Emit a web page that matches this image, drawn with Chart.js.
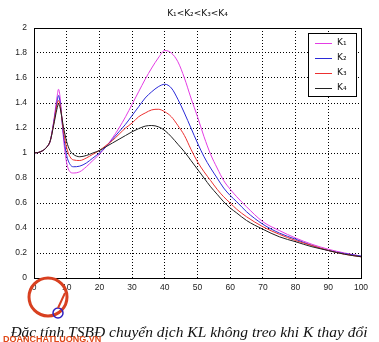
<!DOCTYPE html>
<html>
<head>
<meta charset="utf-8">
<script src="https://cdn.jsdelivr.net/npm/chart.js@4.4.1/dist/chart.umd.min.js"></script>
<style>
  html, body { margin: 0; padding: 0; background: #fff; }
  #wrap { width: 379px; height: 342px; }
</style>
</head>
<body>
<div id="wrap"><canvas id="chart" width="379" height="342"></canvas></div>
<script>
const titleText = 'K₁<K₂<K₃<K₄';
const captionText = 'Đặc tính TSBĐ chuyển dịch KL không treo khi K thay đổi';
const watermarkText = 'DOANCHATLUONG.VN';

const xs = [0, 2, 4, 5, 6, 7, 7.5, 8, 9, 10, 11, 12, 14, 16, 18, 20, 22, 24, 26, 28, 30, 32, 34, 36, 38, 40, 42, 44, 46, 48, 50, 52, 54, 56, 58, 60, 62, 65, 70, 75, 80, 85, 90, 95, 100];

const k1 = [1.00, 1.01, 1.05, 1.10, 1.25, 1.44, 1.51, 1.44, 1.12, 0.92, 0.85, 0.84, 0.85, 0.89, 0.94, 0.99, 1.05, 1.12, 1.20, 1.29, 1.39, 1.49, 1.59, 1.68, 1.76, 1.82, 1.80, 1.73, 1.60, 1.44, 1.29, 1.13, 0.99, 0.88, 0.78, 0.71, 0.65, 0.57, 0.45, 0.38, 0.32, 0.27, 0.23, 0.20, 0.175];
const k2 = [1.00, 1.01, 1.05, 1.10, 1.24, 1.40, 1.46, 1.40, 1.15, 0.98, 0.91, 0.89, 0.895, 0.92, 0.96, 1.00, 1.05, 1.11, 1.17, 1.23, 1.30, 1.37, 1.44, 1.49, 1.53, 1.55, 1.52, 1.43, 1.32, 1.20, 1.08, 0.97, 0.88, 0.80, 0.72, 0.66, 0.61, 0.53, 0.43, 0.36, 0.31, 0.26, 0.22, 0.195, 0.175];
const k3 = [1.00, 1.01, 1.05, 1.10, 1.23, 1.38, 1.42, 1.38, 1.18, 1.04, 0.97, 0.945, 0.94, 0.96, 0.99, 1.02, 1.06, 1.10, 1.15, 1.20, 1.24, 1.29, 1.32, 1.345, 1.35, 1.33, 1.29, 1.22, 1.14, 1.03, 0.93, 0.85, 0.78, 0.71, 0.65, 0.60, 0.55, 0.49, 0.41, 0.35, 0.30, 0.26, 0.22, 0.19, 0.17];
const k4 = [1.00, 1.01, 1.05, 1.10, 1.22, 1.35, 1.39, 1.36, 1.21, 1.09, 1.02, 0.99, 0.97, 0.98, 1.00, 1.02, 1.05, 1.08, 1.11, 1.14, 1.17, 1.195, 1.215, 1.22, 1.21, 1.18, 1.13, 1.07, 1.01, 0.94, 0.87, 0.80, 0.73, 0.67, 0.61, 0.56, 0.52, 0.46, 0.39, 0.33, 0.29, 0.25, 0.22, 0.19, 0.17];

const seriesLabels = ['K₁', 'K₂', 'K₃', 'K₄'];
const seriesColors = ['#e43ce4', '#2a2ad8', '#ec3030', '#202020'];
const seriesValues = [k1, k2, k3, k4];

const xTicks = [0, 10, 20, 30, 40, 50, 60, 70, 80, 90, 100];
const yTicks = [0, 0.2, 0.4, 0.6, 0.8, 1, 1.2, 1.4, 1.6, 1.8, 2];

const tickFont = { family: 'Liberation Sans, Arial, sans-serif', size: 8.5 };

const datasets = seriesValues.map((vals, i) => ({
  label: seriesLabels[i],
  data: xs.map((x, j) => ({ x: x, y: vals[j] })),
  borderColor: seriesColors[i],
  borderWidth: 1,
  pointRadius: 0,
  fill: false,
  cubicInterpolationMode: 'monotone'
}));
// matlab draws last line on top
datasets.reverse();

// frame, title, legend box, caption
const decorPlugin = {
  id: 'decor',
  afterDraw(chart) {
    const ctx = chart.ctx;
    const a = chart.chartArea;
    ctx.save();
    ctx.strokeStyle = '#000';
    ctx.lineWidth = 1;
    ctx.setLineDash([]);
    ctx.strokeRect(Math.round(a.left) + 0.5, Math.round(a.top) + 0.5, Math.round(a.right - a.left), Math.round(a.bottom - a.top));

    // title
    ctx.fillStyle = '#111';
    ctx.font = '9px "DejaVu Sans", sans-serif';
    ctx.textAlign = 'center';
    ctx.textBaseline = 'middle';
    ctx.fillText(titleText, (a.left + a.right) / 2, 14);

    // legend
    const lx = 308, ly = 33, lw = 48, lh = 63;
    ctx.fillStyle = '#fff';
    ctx.fillRect(lx, ly, lw, lh);
    ctx.strokeStyle = '#000';
    ctx.strokeRect(lx + 0.5, ly + 0.5, lw, lh);
    seriesLabels.forEach((lab, i) => {
      const y = ly + 10 + i * 15;
      ctx.strokeStyle = seriesColors[i];
      ctx.beginPath();
      ctx.moveTo(315, y + 0.5);
      ctx.lineTo(332, y + 0.5);
      ctx.stroke();
      ctx.fillStyle = '#111';
      ctx.font = '9px "DejaVu Sans", sans-serif';
      ctx.textAlign = 'left';
      ctx.fillText(lab, 337, y);
    });

    // caption
    ctx.fillStyle = '#111';
    ctx.font = 'italic 15.5px "Liberation Serif", "DejaVu Serif", serif';
    ctx.textAlign = 'center';
    ctx.textBaseline = 'alphabetic';
    ctx.fillText(captionText, 189, 337);

    // logo + watermark
    ctx.lineWidth = 3;
    ctx.strokeStyle = '#d84020';
    ctx.beginPath();
    ctx.arc(48, 297, 19, 0, Math.PI * 2);
    ctx.stroke();
    ctx.lineWidth = 1.5;
    ctx.strokeStyle = '#3020c0';
    ctx.beginPath();
    ctx.arc(58, 313, 5, 0, Math.PI * 2);
    ctx.stroke();
    ctx.beginPath();
    ctx.moveTo(58, 308);
    ctx.lineTo(65, 293);
    ctx.strokeStyle = '#d84020';
    ctx.lineWidth = 2;
    ctx.stroke();
    ctx.fillStyle = '#e04818';
    ctx.font = 'bold 9px "Liberation Sans", Arial, sans-serif';
    ctx.textAlign = 'left';
    ctx.textBaseline = 'middle';
    ctx.fillText(watermarkText, 3, 340);
    ctx.restore();
  }
};

new Chart(document.getElementById('chart').getContext('2d'), {
  type: 'line',
  data: { datasets },
  options: {
    responsive: false,
    animation: false,
    events: [],
    layout: { padding: { top: 28, right: 18, bottom: 44, left: 0 } },
    plugins: {
      legend: { display: false },
      title: { display: false },
      tooltip: { enabled: false }
    },
    scales: {
      x: {
        type: 'linear',
        min: 0,
        max: 100,
        afterBuildTicks: axis => { axis.ticks = xTicks.map(v => ({ value: v })); },
        afterFit: axis => { axis.height = 20; },
        ticks: { font: tickFont, color: '#222', padding: 5, maxRotation: 0, callback: v => String(v) },
        grid: { color: '#000', lineWidth: 1, drawTicks: false },
        border: { display: false, dash: [1, 2] }
      },
      y: {
        type: 'linear',
        min: 0,
        max: 2,
        afterBuildTicks: axis => { axis.ticks = yTicks.map(v => ({ value: v })); },
        afterFit: axis => { axis.width = 34; },
        ticks: { font: tickFont, color: '#222', padding: 7, callback: v => String(Math.round(v * 10) / 10) },
        grid: { color: '#000', lineWidth: 1, drawTicks: false },
        border: { display: false, dash: [1, 2] }
      }
    }
  },
  plugins: [decorPlugin]
});
</script>
</body>
</html>
